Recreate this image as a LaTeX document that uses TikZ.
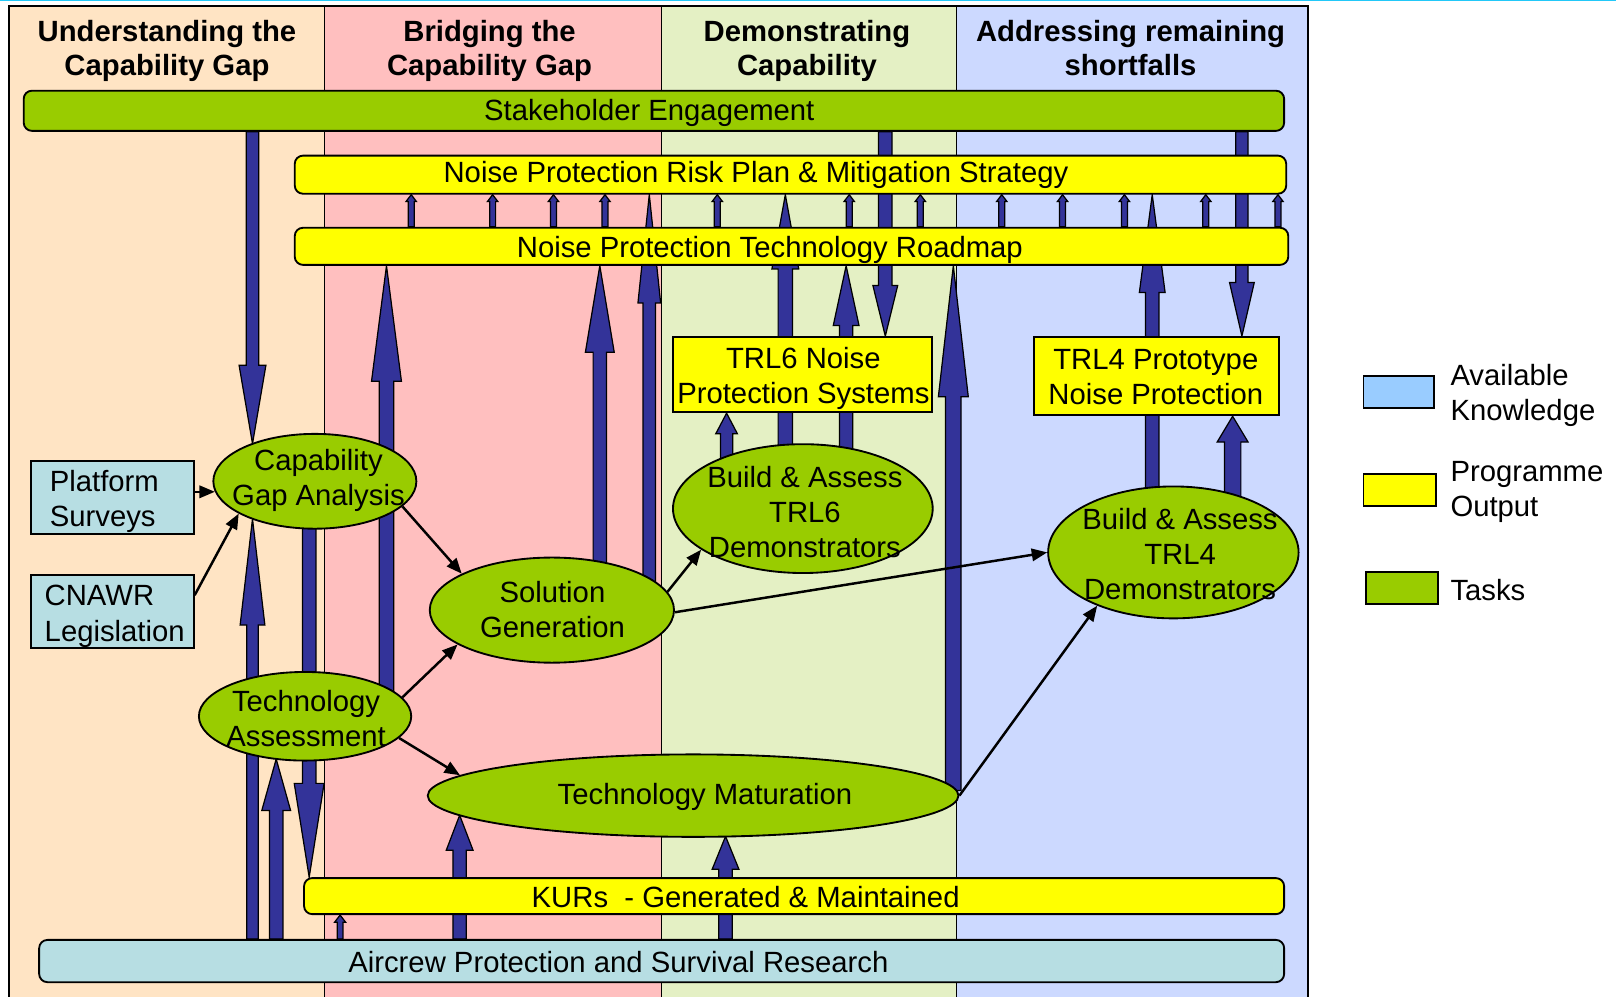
\documentclass[tikz,border=0pt]{standalone}
\usepackage{fontspec}
\setmainfont{Liberation Sans}
\usetikzlibrary{shapes.geometric,arrows.meta,calc}
\definecolor{colA}{HTML}{FFE4C4}
\definecolor{colB}{HTML}{FFBFBF}
\definecolor{colC}{HTML}{E4F0C4}
\definecolor{colD}{HTML}{CCD9FF}
\definecolor{taskgreen}{HTML}{99CC00}
\definecolor{outyellow}{HTML}{FFFF00}
\definecolor{knowteal}{HTML}{B7DEE3}
\definecolor{legblue}{HTML}{99CCFF}
\definecolor{arrblue}{HTML}{333399}
\definecolor{topcyan}{HTML}{22C8F8}
\pgfdeclarelayer{bg}
\pgfdeclarelayer{arr}
\pgfsetlayers{bg,arr,main}
% #1 start, #2 tip, #3 head length, #4 shaft half width, #5 head half width
\newcommand\uparr[5]{\path[blockarrow] let \p1=(#1), \p2=(#2) in
  (\x1-#4,\y1) -- (\x1-#4,\y2-#3) -- (\x1-#5,\y2-#3) -- (\x1,\y2) --
  (\x1+#5,\y2-#3) -- (\x1+#4,\y2-#3) -- (\x1+#4,\y1) -- cycle;}
\newcommand\downarr[5]{\path[blockarrow] let \p1=(#1), \p2=(#2) in
  (\x1-#4,\y1) -- (\x1-#4,\y2+#3) -- (\x1-#5,\y2+#3) -- (\x1,\y2) --
  (\x1+#5,\y2+#3) -- (\x1+#4,\y2+#3) -- (\x1+#4,\y1) -- cycle;}
\newcommand\smallarr[1]{\uparr{#1,0 |- road.north}{#1,0 |- risk.south}{3.3pt}{1.45pt}{2.5pt}}
\tikzset{
  blockarrow/.style={fill=arrblue, draw=black, line width=0.6pt, line join=miter},
  task/.style={ellipse, draw=black, line width=0.9pt, fill=taskgreen, inner sep=0pt},
  plainbox/.style={rectangle, draw=black, line width=0.9pt, inner sep=0pt},
  banner/.style={rectangle, rounded corners=4pt, draw=black, line width=0.9pt, inner sep=0pt},
  txt/.style={inner sep=0pt},
  hdr/.style={inner sep=0pt, align=center, font=\fontsize{14.2}{16.5}\selectfont\bfseries},
  conn/.style={draw=black, line width=1.2pt, -{Triangle[length=7.5pt,width=6pt]}}
}
\begin{document}
\begin{tikzpicture}[x=0.5pt, y=-0.5pt, font=\fontsize{14.2}{17}\selectfont]
\useasboundingbox (0,0) rectangle (1568,967);

% ---------- background columns ----------
\begin{pgfonlayer}{bg}
  \draw[topcyan, line width=0.7pt] (0,0.7) -- (1568,0.7);
  \fill[colA] (9,6) rectangle (315,967);
  \fill[colB] (315,6) rectangle (642,967);
  \fill[colC] (642,6) rectangle (928,967);
  \fill[colD] (928,6) rectangle (1269,967);
  \draw[line width=0.8pt] (315,6) -- (315,967) (642,6) -- (642,967) (928,6) -- (928,967);
  \draw[line width=1pt] (9,967) -- (9,6) -- (1269,6) -- (1269,967);
\end{pgfonlayer}

% ---------- headers ----------
\node[hdr] (h1) at (162,49.5) {Understanding the\\Capability Gap};
\node[hdr] (h2) at (475,49.5) {Bridging the\\Capability Gap};
\node[hdr] (h3) at (783,49.5) {Demonstrating\\Capability};
\node[hdr] (h4) at (1097,46.5) {Addressing remaining\\shortfalls};

% ---------- banners ----------
\node[banner, fill=taskgreen, minimum width=611.5pt, minimum height=19.5pt] (stake) at (634.5,107.5) {};
\node[txt, anchor=base] (stakeT) at (630,117) {Stakeholder Engagement};
\node[banner, fill=outyellow, minimum width=481pt, minimum height=18.5pt] (risk) at (767,169.5) {};
\node[txt, anchor=base] (riskT) at (733.5,177) {Noise Protection Risk Plan \& Mitigation Strategy};
\node[banner, fill=outyellow, minimum width=482pt, minimum height=18pt] (road) at (768,239) {};
\node[txt, anchor=base] (roadT) at (747,250) {Noise Protection Technology Roadmap};
\node[banner, fill=outyellow, minimum width=475.5pt, minimum height=17.5pt] (kur) at (770.5,869.5) {};
\node[txt, anchor=base] (kurT) at (723.5,881) {KURs~ - Generated \& Maintained};
\node[banner, fill=knowteal, minimum width=604pt, minimum height=20.5pt] (air) at (642,932.5) {};
\node[txt, anchor=base] (airT) at (600,944) {Aircrew Protection and Survival Research};

% ---------- knowledge boxes ----------
\node[plainbox, fill=knowteal, minimum width=79pt, minimum height=35.5pt] (plat) at (109,482.5) {};
\node[txt, anchor=west, align=left] (platT) at (48,486.5) {Platform\\Surveys};
\node[plainbox, fill=knowteal, minimum width=79pt, minimum height=35.5pt] (cnawr) at (109,593.5) {};
\node[txt, anchor=west, align=left] (cnawrT) at (43,598) {CNAWR\\Legislation};

% ---------- tasks ----------
\node[task, minimum width=98.5pt, minimum height=46pt] (cga) at (305.5,467) {};
\node[txt, align=center] (cgaT) at (309,466.5) {Capability\\Gap Analysis};
\node[task, minimum width=118.5pt, minimum height=51pt] (sol) at (535.5,592) {};
\node[txt, align=center] (solT) at (536,591) {Solution\\Generation};
\node[task, minimum width=103pt, minimum height=43pt] (tas) at (296,695) {};
\node[txt, align=center] (tasT) at (297,697.5) {Technology\\Assessment};
\node[task, minimum width=257.5pt, minimum height=40pt] (tmat) at (672.5,772) {};
\node[txt, anchor=base] (tmatT) at (684,781) {Technology Maturation};
\node[task, minimum width=126pt, minimum height=62.5pt] (ba6) at (779,493.5) {};
\node[txt, align=center] (ba6T) at (781,497) {Build \& Assess\\TRL6\\Demonstrators};
\node[task, minimum width=121.5pt, minimum height=64pt] (ba4) at (1138.5,536) {};
\node[txt, align=center] (ba4T) at (1145,538) {Build \& Assess\\TRL4\\Demonstrators};

% ---------- outputs ----------
\node[plainbox, fill=outyellow, minimum width=125.5pt, minimum height=36.5pt] (trl6) at (778.5,363.5) {};
\node[txt, align=center] (trl6T) at (779.5,367) {TRL6 Noise\\Protection Systems};
\node[plainbox, fill=outyellow, minimum width=119pt, minimum height=38pt] (trl4) at (1122,365) {};
\node[txt, align=center] (trl4T) at (1121.5,366) {TRL4 Prototype\\Noise Protection};

% ---------- legend ----------
\node[plainbox, fill=legblue, minimum width=34pt, minimum height=15.5pt] (lg1) at (1357,380.5) {};
\node[txt, anchor=west, align=left] (lg1T) at (1407,384) {Available\\Knowledge};
\node[plainbox, fill=outyellow, minimum width=35pt, minimum height=15.5pt] (lg2) at (1358,475.5) {};
\node[txt, anchor=west, align=left] (lg2T) at (1407,477) {Programme\\Output};
\node[plainbox, fill=taskgreen, minimum width=35pt, minimum height=15.5pt] (lg3) at (1360,570.5) {};
\node[txt, anchor=base west] (lg3T) at (1407,583) {Tasks};

% ---------- contact points on ellipses ----------
\coordinate (cgaTop) at (245,430.5);
\coordinate (cgaBot) at (245,503.5);
\coordinate (tasBot) at (268,736.5);
\coordinate (tmatEnd) at (925,767);
\coordinate (tmatBotA) at (446,791);
\coordinate (tmatBotB) at (704,811.5);

% ---------- block arrows (behind nodes) ----------
\begin{pgfonlayer}{arr}
  \foreach \xx in {399,478,537,587,696,824,893,972,1031,1091,1170,1240} {\smallarr{\xx}}
  \downarr{245,0 |- stake.south}{cgaTop}{38pt}{3pt}{6.5pt}
  \uparr{245,0 |- air.north}{cgaBot}{51.5pt}{2.8pt}{6pt}
  \uparr{268,0 |- air.north}{tasBot}{25pt}{3.25pt}{7pt}
  \downarr{300,0 |- cga.center}{300,0 |- kur.north}{45.5pt}{3.25pt}{7.25pt}
  \uparr{375,0 |- tas.center}{375,0 |- road.south}{56pt}{3.5pt}{7.25pt}
  \uparr{582,0 |- sol.center}{582,0 |- road.south}{42pt}{3.25pt}{7pt}
  \uparr{630,0 |- sol.center}{630,0 |- risk.south}{52.5pt}{3pt}{5.5pt}
  \uparr{762,0 |- ba6.center}{762,0 |- risk.south}{36pt}{3.5pt}{6.5pt}
  \uparr{821,0 |- ba6.center}{821,0 |- road.south}{29pt}{3.25pt}{6.25pt}
  \uparr{705,0 |- ba6.center}{705,0 |- trl6.south}{10pt}{3pt}{5.25pt}
  \downarr{859,0 |- stake.south}{859,0 |- trl6.north}{24.5pt}{3.25pt}{6pt}
  \uparr{tmatEnd}{925,0 |- road.south}{63.5pt}{3.75pt}{7.25pt}
  \uparr{1118,0 |- ba4.center}{1118,0 |- risk.south}{47.5pt}{3.25pt}{6.25pt}
  \downarr{1205,0 |- stake.south}{1205,0 |- trl4.north}{26pt}{3pt}{6pt}
  \uparr{1196,0 |- ba4.center}{1196,0 |- trl4.south}{12.5pt}{4pt}{7.5pt}
  \uparr{330,0 |- air.north}{330,0 |- kur.south}{3.5pt}{1.4pt}{2.7pt}
  \uparr{446,0 |- air.north}{tmatBotA}{17pt}{3.25pt}{6.5pt}
  \uparr{704,0 |- air.north}{tmatBotB}{16pt}{3.25pt}{6.5pt}
\end{pgfonlayer}

% ---------- thin connectors ----------
\draw[conn] (plat.east |- cga.186) -- (cga.186);
\draw[conn] ([yshift=8pt]cnawr.east) -- (cga.203);
\draw[conn] (cga.344) -- (sol.158);
\draw[conn] (tas.11) -- (sol.200);
\draw[conn] (tas.347) -- (tmat.175);
\draw[conn] (sol.9) -- (ba6.202);
\draw[conn] (sol.359) -- (ba4.west);
\draw[conn] (tmat.east) -- (ba4.215);
\end{tikzpicture}
\end{document}
